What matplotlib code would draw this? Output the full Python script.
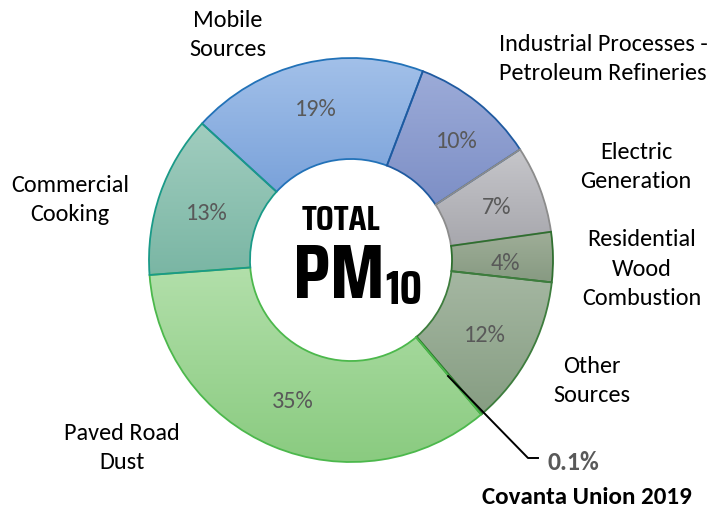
import matplotlib
matplotlib.use("Agg")
import matplotlib.pyplot as plt
import numpy as np
from matplotlib.colors import LinearSegmentedColormap
from matplotlib import font_manager

# ---------------- data ----------------
categories = ["Mobile\nSources", "Industrial Processes -\nPetroleum Refineries",
              "Electric\nGeneration", "Residential\nWood\nCombustion",
              "Other\nSources", "Covanta Union 2019", "Paved Road\nDust",
              "Commercial\nCooking"]
values = [19, 10, 7, 4, 12, 0.1, 35, 13]
pct_labels = ["19%", "10%", "7%", "4%", "12%", "0.1%", "35%", "13%"]

top_colors = ["#a2c0e9", "#9cabd8", "#c6c6ca", "#9fae98", "#a5b7a2", "#5a9a5a", "#b2dfaa", "#a1cdbf"]
bot_colors = ["#7aa2da", "#7d8fc6", "#a7a7ad", "#879a82", "#869d82", "#4a8a4a", "#8acb80", "#7ab6a4"]
edge_colors = ["#2272b8", "#1f5aa0", "#8c8c8c", "#2f6f2f", "#3d7d3d", "#2f7a2f", "#4cb84c", "#1a9a88"]

available = set(f.name for f in font_manager.fontManager.ttflist)

def pick(cands):
    for c in cands:
        if c in available:
            return c
    return "DejaVu Sans"

lab_font = pick(["Carlito", "Lato", "Open Sans"])
title_font = pick(["Saira Extra Condensed", "Saira Condensed", "Teko", "Bebas Neue",
                   "Oswald", "Roboto Condensed", "Liberation Sans Narrow"])

W, H = 715, 508
fig = plt.figure(figsize=(W / 100, H / 100), dpi=100)
ax = fig.add_axes([0, 0, 1, 1])

def Y(yp):
    return H - yp

cx, cy = 351, Y(260)
R = 202
width = 101

wedges, _ = ax.pie(values, startangle=137.5, counterclock=False, center=(cx, cy),
                   radius=R, wedgeprops=dict(width=width, linewidth=1.3),
                   frame=True)

for i, w in enumerate(wedges):
    w.set_facecolor("none")
    w.set_edgecolor(edge_colors[i])
    w.set_zorder(3)
    bb = w.get_path().get_extents(w.get_patch_transform())
    cmap = LinearSegmentedColormap.from_list("g%d" % i, [bot_colors[i], top_colors[i]])
    grad = np.linspace(0, 1, 256).reshape(-1, 1)
    im = ax.imshow(grad, cmap=cmap, extent=[bb.x0, bb.x1, bb.y0, bb.y1],
                   origin="lower", aspect="auto", zorder=2, interpolation="bilinear")
    im.set_clip_path(w)

ax.set_xlim(0, W)
ax.set_ylim(0, H)
ax.set_aspect("equal")
ax.axis("off")

lab_size = 17.5 if lab_font == "Carlito" else 16.5
pct_pos = {0: (316, 110), 1: (457, 142), 2: (497, 208), 3: (505, 264),
           4: (485, 335), 6: (293, 402), 7: (207, 213)}
for i, (x, y) in pct_pos.items():
    ax.text(x, Y(y), pct_labels[i], ha="center", va="center", fontsize=lab_size,
            color="#595959", family=lab_font, zorder=5)

cat_pos = {0: (228, 35), 1: (603, 59), 2: (636, 167), 3: (642, 269),
           4: (592, 381), 6: (122, 448), 7: (70, 200)}
for i, (x, y) in cat_pos.items():
    ax.text(x, Y(y), categories[i], ha="center", va="center", fontsize=lab_size,
            color="black", family=lab_font, linespacing=1.5, zorder=5)

# leader line for tiny slice
ax.plot([448, 528, 538], [Y(376), Y(458), Y(458)], color="black", lw=1.4, zorder=6)
ax.text(547, Y(462), pct_labels[5], ha="left", va="center", fontsize=18.5,
        color="#595959", family=lab_font, fontweight="bold", zorder=5)
ax.text(587, Y(497), categories[5], ha="center", va="center", fontsize=18,
        color="black", family=lab_font, fontweight="bold", zorder=5)

# center title
ax.text(341, Y(220), "TOTAL", ha="center", va="center", fontsize=25.5,
        fontweight="bold", family=title_font, color="black", zorder=5)
ax.text(339, Y(277), "PM", ha="center", va="center", fontsize=56,
        fontweight="bold", family=title_font, color="black", zorder=5)
ax.text(385, Y(290), "10", ha="left", va="center", fontsize=34,
        fontweight="bold", family=title_font, color="black", zorder=5)

fig.savefig("out.png", dpi=100)
